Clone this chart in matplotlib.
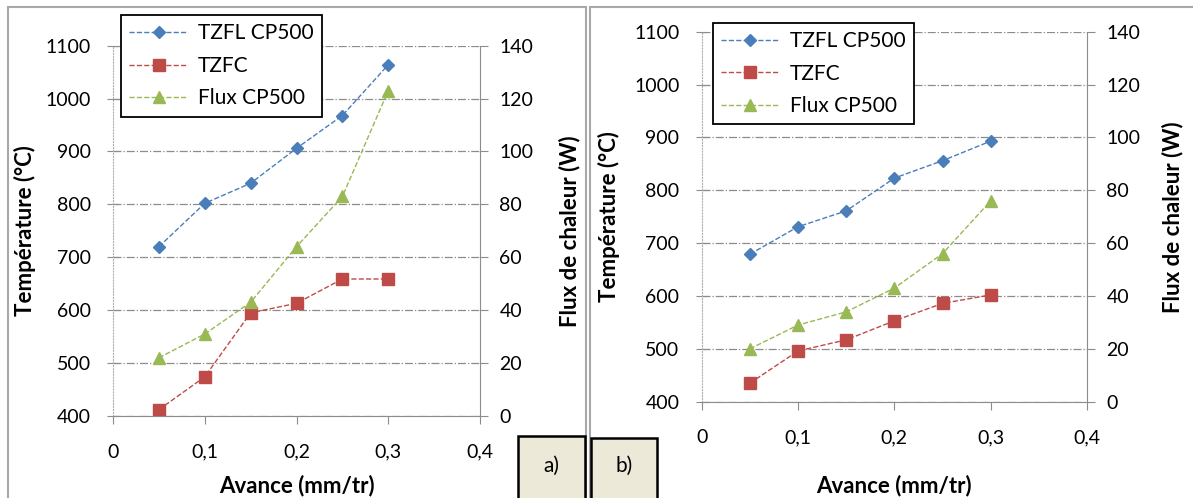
"""Température / flux de chaleur vs avance — panneaux a) et b)."""

import matplotlib
matplotlib.use("Agg")
import matplotlib.pyplot as plt
from matplotlib.patches import Rectangle
from matplotlib.ticker import FuncFormatter, MultipleLocator

# ── Data ──
avance = [0.05, 0.10, 0.15, 0.20, 0.25, 0.30]

tzfl_a = [720, 802, 840, 906, 968, 1064]
tzfc_a = [412, 474, 595, 613, 659, 659]
flux_a = [22, 31, 43, 64, 83, 123]

tzfl_b = [679, 731, 761, 823, 856, 893]
tzfc_b = [435, 496, 517, 553, 586, 602]
flux_b = [20, 29, 34, 43, 56, 76]

# ── Style ──
plt.rcParams.update({
    "font.family": ["Lato", "DejaVu Sans"],
    "font.size": 14,
})

C_TZFL = "#4A7EBB"
C_TZFC = "#BE4B48"
C_FLUX = "#98B954"
C_AXIS = "#8C8C8C"

W, H = 1193, 498
fig = plt.figure(figsize=(W / 100, H / 100), dpi=100)

comma = FuncFormatter(lambda v, p: f"{v:g}".replace(".", ","))


def px_rect(x0, y0, x1, y1):
    """pixel box (top-left origin) -> figure fraction [l, b, w, h]"""
    return [x0 / W, 1 - y1 / H, (x1 - x0) / W, (y1 - y0) / H]


def panel(rect, legend_box, tzfl, tzfc, flux):
    ax = fig.add_axes(rect)
    ax2 = ax.twinx()
    ax.set_zorder(ax2.get_zorder() + 1)
    ax.patch.set_visible(False)

    l1, = ax.plot(avance, tzfl, "--", color=C_TZFL, lw=1, marker="D", ms=6,
                  label="TZFL CP500")
    l2, = ax.plot(avance, tzfc, "--", color=C_TZFC, lw=1, marker="s", ms=8,
                  label="TZFC")
    l3, = ax.plot(avance, flux, "--", color=C_FLUX, lw=1, marker="^", ms=8,
                  label="Flux CP500", transform=ax2.transData)

    ax.set_xlim(0, 0.4)
    ax.set_ylim(400, 1100)
    ax2.set_ylim(0, 140)
    ax.xaxis.set_major_locator(MultipleLocator(0.1))
    ax.yaxis.set_major_locator(MultipleLocator(100))
    ax2.yaxis.set_major_locator(MultipleLocator(20))
    ax.xaxis.set_major_formatter(comma)

    ax.grid(axis="y", color="#8C8C8C", ls="-.", lw=0.9)
    ax.grid(axis="x", visible=False)

    for a in (ax, ax2):
        for s in a.spines.values():
            s.set_visible(False)
    ax.spines["left"].set_visible(True)
    ax.spines["left"].set_color("#B0B0B0")
    ax.spines["left"].set_linestyle(":")
    ax.spines["bottom"].set_visible(True)
    ax.spines["bottom"].set_color(C_AXIS)
    ax2.spines["right"].set_visible(True)
    ax2.spines["right"].set_color(C_AXIS)

    ax.tick_params(axis="y", direction="inout", length=8, color=C_AXIS,
                   pad=12, labelsize=14)
    ax.tick_params(axis="x", direction="out", length=6, color=C_AXIS,
                   pad=14, labelsize=14)
    ax2.tick_params(axis="y", direction="out", length=6, color=C_AXIS,
                    pad=8, labelsize=14)

    ax.set_ylabel("Température (°C)", fontweight="bold", fontsize=16)
    ax2.set_ylabel("Flux de chaleur (W)", fontweight="bold", fontsize=16)
    ax.set_xlabel("Avance (mm/tr)", fontweight="bold", fontsize=16)

    leg = fig.legend(handles=[l1, l2, l3], loc="upper left",
                     bbox_to_anchor=legend_box, bbox_transform=fig.transFigure,
                     fancybox=False, framealpha=1, edgecolor="black",
                     fontsize=15, handlelength=2.8, borderpad=0.4,
                     labelspacing=0.6, handletextpad=0.5, borderaxespad=0)
    leg.get_frame().set_linewidth(1.3)
    return ax, ax2


# panel a)
ax_a, ax_a2 = panel(px_rect(113, 45.7, 480, 416), (121 / W, 1 - 15 / H),
                    tzfl_a, tzfc_a, flux_a)
ax_a.xaxis.set_label_coords(0.5, -0.158)
ax_a.yaxis.set_label_coords(-0.21, 0.5)
ax_a2.yaxis.set_label_coords(1.213, 0.5)

# panel b)
ax_b, ax_b2 = panel(px_rect(701.7, 31.7, 1087, 401.7), (712.7 / W, 1 - 22.7 / H),
                    tzfl_b, tzfc_b, flux_b)
ax_b.xaxis.set_label_coords(0.5, -0.196)
ax_b.yaxis.set_label_coords(-0.212, 0.5)
ax_b2.yaxis.set_label_coords(1.195, 0.5)

# panel frames
for x0, x1 in [(8, 586), (590, 1200)]:
    fig.add_artist(Rectangle((x0 / W, -0.05), (x1 - x0) / W, 1.05 - 7 / H,
                             transform=fig.transFigure, fill=False,
                             edgecolor="#A8A8A8", lw=1.5))

# a) / b) tags
for x0, x1, y0, tag in [(518, 585, 436, "a)"), (591, 657, 438, "b)")]:
    fig.add_artist(Rectangle((x0 / W, -0.05), (x1 - x0) / W, 0.05 + (H - y0) / H,
                             transform=fig.transFigure, facecolor="#ECE9D8",
                             edgecolor="black", lw=1.8))
    fig.text((x0 + x1) / 2 / W, 1 - 466 / H, tag, ha="center", va="center",
             fontsize=15)

fig.savefig("out.png", dpi=100)
